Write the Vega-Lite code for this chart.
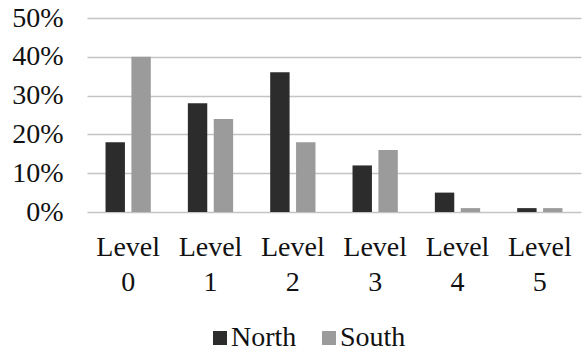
{
  "$schema": "https://vega.github.io/schema/vega-lite/v6.json",
  "width": 494,
  "height": 194,
  "autosize": "none",
  "padding": {"left": 87, "top": 18, "right": 5, "bottom": 140},
  "background": "white",
  "data": {
    "values": [
      {"level": "Level 0", "region": "North", "share": 0.18},
      {"level": "Level 0", "region": "South", "share": 0.40},
      {"level": "Level 1", "region": "North", "share": 0.28},
      {"level": "Level 1", "region": "South", "share": 0.24},
      {"level": "Level 2", "region": "North", "share": 0.36},
      {"level": "Level 2", "region": "South", "share": 0.18},
      {"level": "Level 3", "region": "North", "share": 0.12},
      {"level": "Level 3", "region": "South", "share": 0.16},
      {"level": "Level 4", "region": "North", "share": 0.05},
      {"level": "Level 4", "region": "South", "share": 0.01},
      {"level": "Level 5", "region": "North", "share": 0.01},
      {"level": "Level 5", "region": "South", "share": 0.01}
    ]
  },
  "mark": {"type": "bar"},
  "encoding": {
    "x": {
      "field": "level",
      "type": "nominal",
      "scale": {"paddingInner": 0.45, "paddingOuter": 0.225},
      "axis": {
        "title": null,
        "labelAngle": 0,
        "labelExpr": "split(datum.label, ' ')",
        "labelFont": "Liberation Serif",
        "labelFontSize": 28,
        "labelColor": "#111111",
        "labelLineHeight": 35,
        "labelPadding": 21,
        "labelLimit": 0,
        "ticks": false,
        "domain": false
      }
    },
    "xOffset": {
      "field": "region",
      "type": "nominal",
      "scale": {"paddingInner": 0.25, "paddingOuter": 0}
    },
    "y": {
      "field": "share",
      "type": "quantitative",
      "scale": {"domain": [0, 0.5]},
      "axis": {
        "title": null,
        "format": ".0%",
        "values": [0, 0.1, 0.2, 0.3, 0.4, 0.5],
        "labelFont": "Liberation Serif",
        "labelFontSize": 28,
        "labelColor": "#111111",
        "labelPadding": 24,
        "labelLimit": 0,
        "ticks": false,
        "domain": false,
        "grid": true,
        "gridColor": "#c4c4c4",
        "gridWidth": 1.5
      }
    },
    "color": {
      "field": "region",
      "type": "nominal",
      "scale": {"domain": ["North", "South"], "range": ["#2c2c2c", "#9b9b9b"]},
      "legend": {
        "title": null,
        "orient": "none",
        "legendX": 119,
        "legendY": 306,
        "direction": "horizontal",
        "symbolType": "square",
        "symbolSize": 196,
        "symbolStrokeWidth": 0,
        "labelFont": "Liberation Serif",
        "labelFontSize": 28,
        "labelColor": "#111111",
        "labelOffset": -3,
        "labelLimit": 0,
        "columnPadding": 18
      }
    }
  },
  "config": {
    "view": {"stroke": null}
  }
}
